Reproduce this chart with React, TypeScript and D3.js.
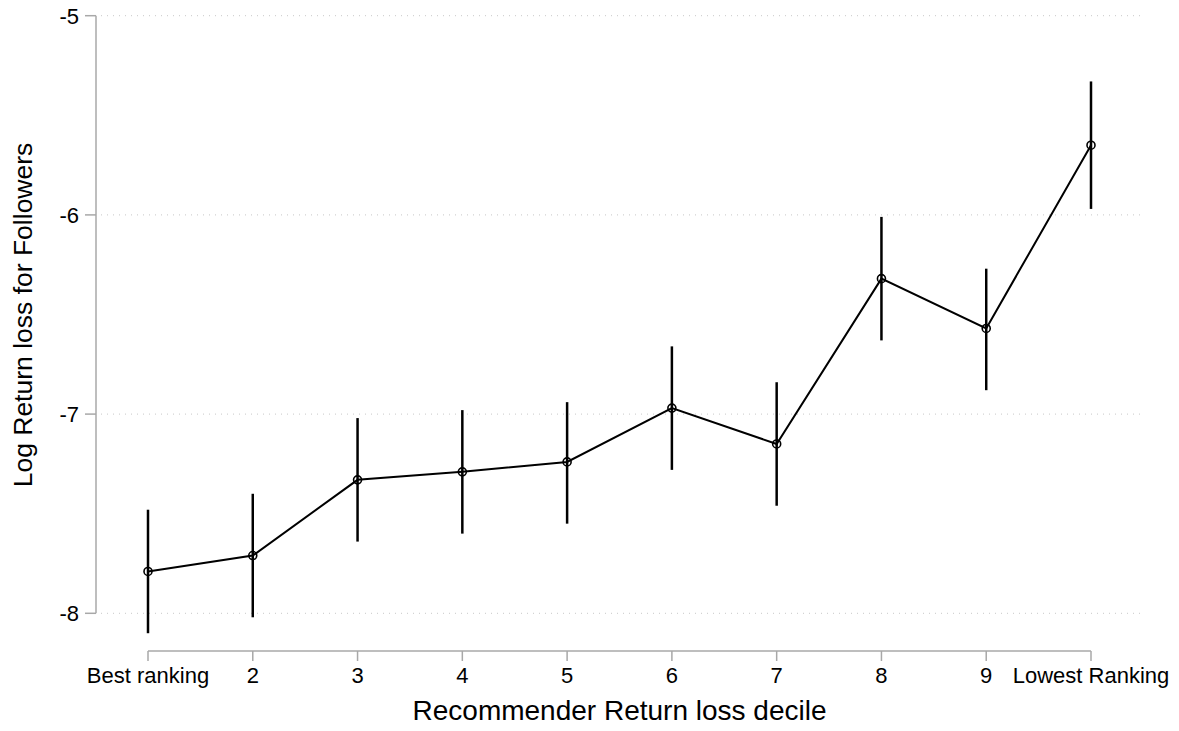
import React from 'react';
import * as d3 from 'd3';

// decile labels on the x axis
const deciles = ['Best ranking', '2', '3', '4', '5', '6', '7', '8', '9', 'Lowest Ranking'];
// point estimates and 95% CI bounds
const estimates = [-7.79, -7.71, -7.33, -7.29, -7.24, -6.97, -7.15, -6.32, -6.57, -5.65];
const lower = [-8.1, -8.02, -7.64, -7.6, -7.55, -7.28, -7.46, -6.63, -6.88, -5.97];
const upper = [-7.48, -7.4, -7.02, -6.98, -6.94, -6.66, -6.84, -6.01, -6.27, -5.33];
const yTicks = [-8, -7, -6, -5];

const width = 1179;
const height = 731;
const font = '"Liberation Sans", Arial, Helvetica, sans-serif';

const App = () => {
  const x = d3.scaleLinear().domain([1, 10]).range([148, 1091]);
  const y = d3.scaleLinear().domain([-8, -5]).range([613.3, 15.7]);
  const axisX = 96;
  const axisY = 651;

  const line = d3.line<number>()
    .x((d, i) => x(i + 1))
    .y((d) => y(d));

  return (
    <div style={{ position: 'absolute', left: 0, top: 0 }}>
      <svg width={width} height={height} style={{ display: 'block', background: '#fff' }} fontFamily={font}>
        {/* grid */}
        {yTicks.map((t) => (
          <line key={'g' + t} x1={101} x2={1143} y1={y(t)} y2={y(t)}
            stroke="#c8c8c8" strokeWidth={1} strokeDasharray="1 5" />
        ))}
        {/* y axis */}
        <line x1={axisX} x2={axisX} y1={y(-5)} y2={y(-8)} stroke="#a8a8a8" strokeWidth={1.5} />
        {yTicks.map((t) => (
          <g key={'y' + t}>
            <line x1={axisX - 11} x2={axisX} y1={y(t)} y2={y(t)} stroke="#a8a8a8" strokeWidth={1.5} />
            <text x={79} y={y(t)} dy="0.36em" textAnchor="end" fontSize={22} fill="#000">{t}</text>
          </g>
        ))}
        <text transform={`translate(32, 315) rotate(-90)`} textAnchor="middle" fontSize={26.5} fill="#000">
          Log Return loss for Followers
        </text>
        {/* x axis */}
        <line x1={x(1)} x2={x(10)} y1={axisY} y2={axisY} stroke="#a8a8a8" strokeWidth={1.5} />
        {deciles.map((d, i) => (
          <g key={'x' + i}>
            <line x1={x(i + 1)} x2={x(i + 1)} y1={axisY} y2={axisY + 10} stroke="#a8a8a8" strokeWidth={1.5} />
            <text x={x(i + 1)} y={683} textAnchor="middle" fontSize={22} fill="#000">{d}</text>
          </g>
        ))}
        <text x={(x(1) + x(10)) / 2} y={720} textAnchor="middle" fontSize={28} fill="#000">
          Recommender Return loss decile
        </text>
        {/* confidence intervals */}
        {estimates.map((e, i) => (
          <line key={'ci' + i} x1={x(i + 1)} x2={x(i + 1)} y1={y(lower[i])} y2={y(upper[i])}
            stroke="#000" strokeWidth={2.5} />
        ))}
        <path d={line(estimates) || ''} fill="none" stroke="#000" strokeWidth={2} />
        {estimates.map((e, i) => (
          <circle key={'p' + i} cx={x(i + 1)} cy={y(e)} r={4} fill="none" stroke="#000" strokeWidth={1.6} />
        ))}
      </svg>
    </div>
  );
};

export default App;
